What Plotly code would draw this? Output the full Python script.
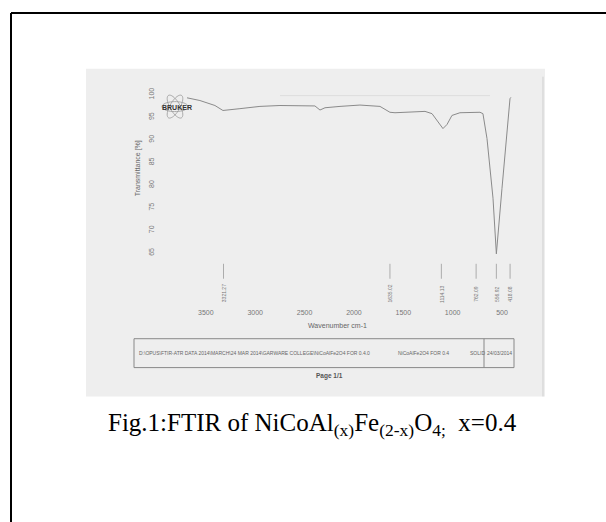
import numpy as np
import plotly.graph_objects as go

W, H = 606, 522

# ---- data ----
wavenumber = [3691, 3560, 3408, 3327, 3155, 2952, 2749, 2547, 2395, 2344, 2293, 2141,
              1939, 1736, 1635, 1584, 1432, 1280, 1209, 1148, 1098, 1057, 1007, 926,
              723, 693, 652, 591, 557, 500, 449, 419, 410]
transmittance = [99.3, 98.7, 97.6, 96.5, 96.9, 97.4, 97.6, 97.6, 97.5, 96.6, 97.1, 97.4,
                 97.7, 97.4, 96.1, 96.0, 96.1, 96.3, 95.8, 94.1, 92.5, 93.4, 95.4, 96.0,
                 96.1, 95.8, 90.3, 77.1, 64.8, 79.3, 92.5, 99.1, 99.4]
peak_positions = [3321.27, 1635.02, 1114.13, 762.09, 556.92, 418.08]
peak_labels = ["3321.27", "1635.02", "1114.13", "762.09", "556.92", "418.08"]
x_ticks = [3500, 3000, 2500, 2000, 1500, 1000, 500]
y_ticks = [65, 70, 75, 80, 85, 90, 95, 100]


def px(x):
    return x / W


def py(y):
    return 1 - y / H


fig = go.Figure()

fig.add_trace(go.Scatter(x=wavenumber, y=transmittance, mode="lines",
                         line=dict(color="#8a8a8a", width=1), hoverinfo="skip",
                         showlegend=False))

# peak marker lines
for p in peak_positions:
    fig.add_trace(go.Scatter(x=[p, p], y=[62.6, 59.3], mode="lines",
                             line=dict(color="#9a9a9a", width=0.8),
                             hoverinfo="skip", showlegend=False))

sans = "Liberation Sans, Arial, sans-serif"

annotations = []
for p, lab in zip(peak_positions, peak_labels):
    annotations.append(dict(x=p, y=56, xref="x", yref="y", text=lab, showarrow=False,
                            textangle=-90, xanchor="center", yanchor="middle",
                            font=dict(size=5, color="#777", family=sans)))


def note(x, y, text, size, color, **kw):
    d = dict(x=px(x), y=py(y), xref="paper", yref="paper", text=text, showarrow=False,
             xanchor="center", yanchor="middle", font=dict(size=size, color=color, family=kw.pop("family", sans)))
    d.update(kw)
    annotations.append(d)


note(177, 106, "<b>BRUKER</b>", 7, "#333")
note(138, 167, "Transmittance [%]", 7, "#666", textangle=-90)
note(337, 325, "Wavenumber cm-1", 7, "#666")
note(137, 352.5, "D:\\OPUS\\FTIR-ATR DATA 2014\\MARCH\\24 MAR 2014\\GARWARE COLLEGE\\NiCoAlFe2O4 FOR 0.4.0",
     5, "#666", xanchor="left")
note(423, 352.5, "NiCoAlFe2O4 FOR 0.4", 5, "#666")
note(477, 352.5, "SOLID", 5, "#666")
note(499, 352.5, "24/03/2014", 5, "#666")
note(329, 375, "<b>Page 1/1</b>", 6.5, "#555")
note(312, 424, "Fig.1:FTIR of NiCoAl<sub>(x)</sub>Fe<sub>(2-x)</sub>O<sub>4;</sub>  x=0.4", 25, "#000",
     family="Times New Roman, Liberation Serif, serif")

shapes = []
# scanned page background
shapes.append(dict(type="rect", xref="paper", yref="paper", x0=px(86), x1=px(545), y0=py(396), y1=py(67),
                   fillcolor="#eeeeee", line=dict(width=0), layer="below"))
shapes.append(dict(type="line", xref="paper", yref="paper", x0=px(543), x1=px(543), y0=py(396), y1=py(75),
                   line=dict(color="#cfcfcf", width=1), layer="below"))
# faint top line of spectrum frame
shapes.append(dict(type="line", xref="paper", yref="paper", x0=px(280), x1=px(490), y0=py(94), y1=py(94),
                   line=dict(color="#dddddd", width=1), layer="below"))
# info box
shapes.append(dict(type="rect", xref="paper", yref="paper", x0=px(134), x1=px(514), y0=py(367), y1=py(338),
                   line=dict(color="#888", width=1)))
shapes.append(dict(type="line", xref="paper", yref="paper", x0=px(484), x1=px(484), y0=py(367), y1=py(338),
                   line=dict(color="#888", width=1)))
# Bruker orbits
cx, cy = 175, 105
for ang in [0, 60, 120]:
    t = np.linspace(0, 2 * np.pi, 40)
    a, b = 13, 5
    xs = a * np.cos(t)
    ys = b * np.sin(t)
    r = np.deg2rad(ang)
    X = cx + xs * np.cos(r) - ys * np.sin(r)
    Y = cy + xs * np.sin(r) + ys * np.cos(r)
    path = "M " + " L ".join(f"{px(x):.5f},{py(y):.5f}" for x, y in zip(X, Y)) + " Z"
    shapes.append(dict(type="path", xref="paper", yref="paper", path=path,
                       line=dict(color="#999", width=0.8)))
# outer document border
shapes.append(dict(type="line", xref="paper", yref="paper", x0=px(11), x1=1, y0=py(11), y1=py(11),
                   line=dict(color="#000", width=2)))
shapes.append(dict(type="line", xref="paper", yref="paper", x0=px(11), x1=px(11), y0=py(11), y1=0,
                   line=dict(color="#000", width=2)))

fig.update_layout(
    width=W, height=H, margin=dict(l=0, r=0, t=0, b=0),
    paper_bgcolor="white", plot_bgcolor="rgba(0,0,0,0)",
    showlegend=False,
    xaxis=dict(range=[4000, 350], domain=[156.5 / W, 516.8 / W], showgrid=False, zeroline=False,
               showline=False, ticks="", tickvals=x_ticks, ticktext=[str(v) for v in x_ticks],
               tickfont=dict(size=7, color="#777", family=sans)),
    yaxis=dict(range=[53, 101], domain=[(H - 306.4) / H, (H - 88.46) / H], showgrid=False,
               zeroline=False, showline=False, ticks="", tickvals=y_ticks,
               ticktext=[str(v) for v in y_ticks], tickangle=-90,
               tickfont=dict(size=7, color="#777", family=sans)),
    shapes=shapes, annotations=annotations,
)

fig.write_html("out.html")
